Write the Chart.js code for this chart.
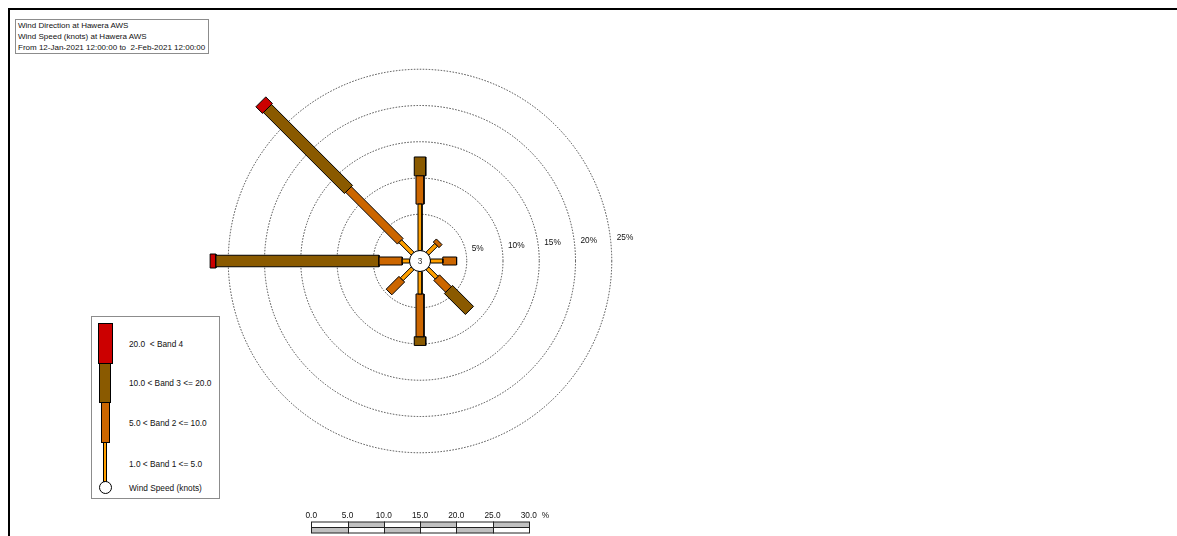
<!DOCTYPE html>
<html>
<head>
<meta charset="utf-8">
<title>Wind Rose - Hawera AWS</title>
<script src="https://cdn.jsdelivr.net/npm/chart.js@4.4.1/dist/chart.umd.min.js"></script>
<style>
  body { margin: 0; background: #fff; font-family: "Liberation Sans", Arial, sans-serif; }
  #wrap { position: relative; width: 1177px; height: 536px; overflow: hidden; }
  #chartBox { position: absolute; left: 0; top: 0; width: 1177px; height: 536px; }
  #frame { position: absolute; left: 8px; top: 8px; width: 1300px; height: 700px;
           border-top: 2px solid #000; border-left: 2px solid #000; }
  .title { position: absolute; left: 15px; top: 19px; width: 194px; height: 35px;
           border: 1px solid #8c8c8c; box-sizing: border-box; padding: 0 0 0 2px;
           font-size: 8px; line-height: 11px; color: #111; background: #fff; white-space: nowrap; }
  .legend { position: absolute; left: 91px; top: 316px; width: 129px; height: 183px;
            border: 1px solid #8c8c8c; box-sizing: border-box; background: #fff; }
  .legend .sw { position: absolute; border: 1px solid #000; box-sizing: border-box; }
  .legend .lbl { position: absolute; left: 37px; font-size: 8.3px; color: #111;
                 transform: translateY(-50%); white-space: pre; }
</style>
</head>
<body>
<div id="wrap">
  <div id="frame"></div>
  <div id="chartBox"><canvas id="roseChart"></canvas></div>
  <div class="title">Wind Direction at Hawera AWS<br>Wind Speed (knots) at Hawera AWS<br>From 12-Jan-2021 12:00:00 to&nbsp; 2-Feb-2021 12:00:00</div>
  <div class="legend" id="legend"></div>
</div>
<script>
// data (percent of time per direction and speed band)
const directions = ['N', 'NE', 'E', 'SE', 'S', 'SW', 'W', 'NW'];
const dirAngles = [0, 45, 90, 135, 180, 225, 270, 315];
const band1 = [6.4, 1.7, 1.7, 1.8, 3.1, 2.1, 1.0, 2.4];
const band2 = [3.9, 0.6, 1.9, 2.3, 5.9, 2.5, 3.2, 10.1];
const band3 = [2.6, 0, 0, 4.1, 1.2, 0, 22.5, 15.8];
const band4 = [0, 0, 0, 0, 0, 0, 0.8, 1.3];
const calmPct = 3;
const bandLabels = ['1.0 < Band 1 <= 5.0', '5.0 < Band 2 <= 10.0', '10.0 < Band 3 <= 20.0', '20.0  < Band 4'];
const ringTicks = [5, 10, 15, 20, 25];
const scaleBarTicks = [0, 5, 10, 15, 20, 25, 30];

// styles / layout
const bandColors = ['#FFA000', '#CC6600', '#8A5A00', '#CC0000'];
const bandWidthsPx = [4, 8, 11.5, 14];
const W = 1177, H = 536;
const pxPerPct = 7.25;
const centerPx = { x: 420, y: 261 };
const calmRadiusPx = 10.5;
const calmR = calmRadiusPx / pxPerPct;
const FONT = '8.3px "Liberation Sans", Arial, sans-serif';

const bands = [band1, band2, band3, band4];

const datasets = [{
    label: 'Calm',
    data: [{ x: 0, y: 0 }],
    pointRadius: calmRadiusPx,
    pointBackgroundColor: '#fff',
    pointBorderColor: '#000',
    pointBorderWidth: 1,
    showLine: false
}];

directions.forEach((d, i) => {
    const a = dirAngles[i] * Math.PI / 180;
    const s = Math.sin(a), c = Math.cos(a);
    const p = (r, o) => ({ x: r * s + o * c, y: r * c - o * s });
    let r0 = calmR;
    bands.forEach((band, b) => {
        const v = band[i];
        if (!v) return;
        const r1 = r0 + v;
        const h = bandWidthsPx[b] / 2 / pxPerPct;
        datasets.push({
            label: d + ' band ' + (b + 1),
            data: [p(r0, -h), p(r1, -h), p(r1, h), p(r0, h), p(r0, -h)],
            showLine: true,
            fill: 'shape',
            backgroundColor: bandColors[b],
            borderColor: '#000',
            borderWidth: 1,
            borderJoinStyle: 'miter',
            pointRadius: 0,
            tension: 0
        });
        r0 = r1;
    });
});

const roseDecor = {
    id: 'roseDecor',
    beforeDatasetsDraw(chart) {
        const { ctx, scales: { x, y } } = chart;
        const cx = x.getPixelForValue(0), cy = y.getPixelForValue(0);
        const ppu = x.getPixelForValue(1) - cx;
        ctx.save();
        // rings
        ctx.strokeStyle = '#444';
        ctx.lineWidth = 1;
        ctx.setLineDash([1.5, 1.5]);
        ringTicks.forEach(t => {
            ctx.beginPath();
            ctx.arc(cx, cy, (calmR + t) * ppu, 0, Math.PI * 2);
            ctx.stroke();
        });
        ctx.setLineDash([]);
        ctx.fillStyle = '#111';
        ctx.font = FONT;
        ctx.textBaseline = 'middle';
        ctx.textAlign = 'left';
        ringTicks.forEach(t => {
            ctx.fillText(t + '%', cx + (calmR + t) * ppu + 5, cy - 10 - 0.52 * t);
        });

        // percent scale bar
        const maxT = scaleBarTicks[scaleBarTicks.length - 1];
        const x0 = cx - maxT / 2 * ppu;
        const top = 522, rowH = 5.5;
        for (let i = 0; i < scaleBarTicks.length - 1; i++) {
            const xa = Math.round(x0 + scaleBarTicks[i] * ppu) + 0.5;
            const xb = Math.round(x0 + scaleBarTicks[i + 1] * ppu) + 0.5;
            [0, 1].forEach(row => {
                const gray = (i + row) % 2 === 1;
                const ya = top + row * rowH;
                ctx.fillStyle = gray ? '#c0c0c0' : '#fff';
                ctx.fillRect(xa, ya, xb - xa, rowH);
                ctx.strokeStyle = '#222';
                ctx.strokeRect(xa, ya, xb - xa, rowH);
            });
        }
        ctx.fillStyle = '#111';
        ctx.textAlign = 'center';
        scaleBarTicks.forEach(t => {
            ctx.fillText(t.toFixed(1), x0 + t * ppu, 516);
        });
        ctx.textAlign = 'left';
        ctx.fillText('%', x0 + maxT * ppu + 13, 516);
        ctx.restore();
    },
    afterDatasetsDraw(chart) {
        const { ctx, scales: { x, y } } = chart;
        ctx.save();
        ctx.fillStyle = '#333';
        ctx.font = FONT;
        ctx.textAlign = 'center';
        ctx.textBaseline = 'middle';
        ctx.fillText(String(calmPct), x.getPixelForValue(0), y.getPixelForValue(0) + 0.5);
        ctx.restore();
    }
};

new Chart(document.getElementById('roseChart'), {
    type: 'scatter',
    data: { datasets: datasets },
    options: {
        responsive: true,
        maintainAspectRatio: false,
        animation: false,
        layout: { padding: 0, autoPadding: false },
        scales: {
            x: { type: 'linear', display: false, min: -centerPx.x / pxPerPct, max: (W - centerPx.x) / pxPerPct },
            y: { type: 'linear', display: false, min: -(H - centerPx.y) / pxPerPct, max: centerPx.y / pxPerPct }
        },
        plugins: {
            legend: { display: false },
            tooltip: { enabled: false }
        },
        events: []
    },
    plugins: [roseDecor]
});

// legend (band swatches stacked like one arm, top band first)
const legendEl = document.getElementById('legend');
const swatchBoxes = [
    { left: 11.3, top: 125, width: 4, height: 40 },
    { left: 9, top: 85, width: 8.5, height: 41 },
    { left: 7.3, top: 46, width: 12, height: 40 },
    { left: 5.7, top: 6, width: 15, height: 41 }
];
const labelY = [147, 105.7, 66.3, 27.3];
bands.forEach((band, b) => {
    const sw = document.createElement('div');
    sw.className = 'sw';
    const bx = swatchBoxes[b];
    sw.style.cssText = `left:${bx.left}px;top:${bx.top}px;width:${bx.width}px;height:${bx.height}px;background:${bandColors[b]}`;
    legendEl.appendChild(sw);
    const lbl = document.createElement('div');
    lbl.className = 'lbl';
    lbl.style.top = labelY[b] + 'px';
    lbl.textContent = bandLabels[b];
    legendEl.appendChild(lbl);
});
const calmSw = document.createElement('div');
calmSw.className = 'sw';
calmSw.style.cssText = 'left:6.8px;top:164px;width:13px;height:13px;border-radius:50%;background:#fff';
legendEl.appendChild(calmSw);
const calmLbl = document.createElement('div');
calmLbl.className = 'lbl';
calmLbl.style.top = '171px';
calmLbl.textContent = 'Wind Speed (knots)';
legendEl.appendChild(calmLbl);
</script>
</body>
</html>
